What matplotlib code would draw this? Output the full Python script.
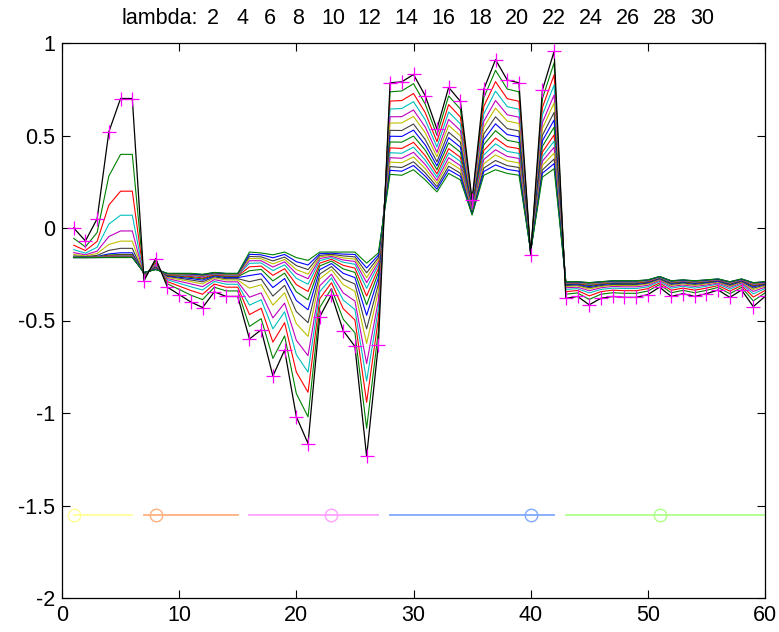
import matplotlib
matplotlib.use("Agg")
import matplotlib.pyplot as plt

features = list(range(1, 61))

# original weights (black line with magenta + markers)
w_lambda0 = [0.00, -0.07, 0.05, 0.52, 0.70, 0.70,
             -0.285, -0.165, -0.32, -0.36, -0.40, -0.43, -0.345, -0.37, -0.37,
             -0.60, -0.55, -0.80, -0.66, -1.02, -1.165, -0.48, -0.36, -0.555, -0.64, -1.235, -0.63,
             0.785, 0.79, 0.83, 0.715, 0.535, 0.76, 0.685, 0.15, 0.75, 0.91, 0.80, 0.785, -0.145, 0.745, 0.955,
             -0.38, -0.37, -0.415, -0.38, -0.37, -0.375, -0.375, -0.36, -0.32, -0.37, -0.355, -0.37, -0.355,
             -0.335, -0.375, -0.335, -0.425, -0.37]

w_lambda2 = [-0.056, -0.102, -0.024, 0.281, 0.398, 0.398,
             -0.274, -0.179, -0.302, -0.332, -0.363, -0.387, -0.320, -0.340, -0.340,
             -0.532, -0.490, -0.705, -0.583, -0.895, -1.021, -0.429, -0.327, -0.493, -0.566, -1.083, -0.558,
             0.736, 0.741, 0.780, 0.670, 0.502, 0.714, 0.643, 0.142, 0.704, 0.852, 0.751, 0.736, -0.143, 0.699, 0.893,
             -0.358, -0.351, -0.386, -0.358, -0.350, -0.353, -0.353, -0.341, -0.306, -0.350, -0.337, -0.350, -0.337,
             -0.321, -0.355, -0.321, -0.394, -0.351]

w_lambda4 = [-0.093, -0.122, -0.072, 0.124, 0.199, 0.199,
             -0.267, -0.189, -0.290, -0.314, -0.338, -0.358, -0.303, -0.320, -0.320,
             -0.468, -0.434, -0.617, -0.512, -0.779, -0.888, -0.382, -0.296, -0.436, -0.497, -0.942, -0.491,
             0.686, 0.689, 0.727, 0.624, 0.467, 0.667, 0.600, 0.134, 0.657, 0.791, 0.699, 0.685, -0.141, 0.651, 0.828,
             -0.344, -0.338, -0.367, -0.344, -0.336, -0.339, -0.339, -0.328, -0.297, -0.336, -0.325, -0.336, -0.325,
             -0.311, -0.341, -0.311, -0.373, -0.338]

w_lambda6 = [-0.117, -0.136, -0.104, 0.021, 0.069, 0.069,
             -0.261, -0.197, -0.280, -0.299, -0.318, -0.335, -0.289, -0.304, -0.304,
             -0.417, -0.388, -0.545, -0.453, -0.685, -0.779, -0.344, -0.270, -0.389, -0.441, -0.827, -0.437,
             0.643, 0.646, 0.683, 0.585, 0.438, 0.627, 0.563, 0.127, 0.617, 0.740, 0.656, 0.642, -0.139, 0.611, 0.773,
             -0.332, -0.328, -0.351, -0.332, -0.325, -0.327, -0.327, -0.318, -0.289, -0.325, -0.315, -0.325, -0.315,
             -0.303, -0.330, -0.303, -0.356, -0.328]

w_lambda8 = [-0.133, -0.145, -0.125, -0.046, -0.016, -0.016,
             -0.257, -0.203, -0.273, -0.288, -0.302, -0.317, -0.279, -0.291, -0.291,
             -0.374, -0.351, -0.486, -0.406, -0.607, -0.690, -0.312, -0.250, -0.351, -0.395, -0.733, -0.392,
             0.601, 0.602, 0.638, 0.546, 0.409, 0.587, 0.527, 0.120, 0.577, 0.689, 0.612, 0.599, -0.138, 0.570, 0.719,
             -0.323, -0.320, -0.339, -0.323, -0.316, -0.318, -0.318, -0.310, -0.283, -0.316, -0.308, -0.316, -0.308,
             -0.297, -0.321, -0.297, -0.343, -0.320]

w_lambda10 = [-0.143, -0.151, -0.138, -0.089, -0.071, -0.071,
              -0.253, -0.208, -0.267, -0.278, -0.290, -0.302, -0.270, -0.281, -0.281,
              -0.325, -0.307, -0.417, -0.350, -0.517, -0.586, -0.275, -0.225, -0.306, -0.342, -0.624, -0.340,
              0.567, 0.568, 0.603, 0.515, 0.385, 0.555, 0.498, 0.115, 0.545, 0.648, 0.578, 0.565, -0.136, 0.538, 0.676,
              -0.316, -0.313, -0.330, -0.316, -0.310, -0.311, -0.311, -0.303, -0.279, -0.310, -0.302, -0.310, -0.302,
              -0.292, -0.315, -0.292, -0.333, -0.313]

w_lambda12 = [-0.151, -0.155, -0.148, -0.121, -0.110, -0.110,
              -0.250, -0.211, -0.262, -0.271, -0.281, -0.291, -0.264, -0.274, -0.274,
              -0.290, -0.276, -0.368, -0.310, -0.452, -0.512, -0.249, -0.208, -0.275, -0.303, -0.545, -0.303,
              0.528, 0.527, 0.562, 0.478, 0.358, 0.518, 0.464, 0.108, 0.508, 0.601, 0.537, 0.525, -0.135, 0.501, 0.625,
              -0.311, -0.308, -0.323, -0.311, -0.305, -0.306, -0.306, -0.298, -0.275, -0.305, -0.297, -0.305, -0.297,
              -0.289, -0.310, -0.289, -0.325, -0.308]

w_lambda14 = [-0.155, -0.157, -0.154, -0.140, -0.134, -0.134,
              -0.248, -0.214, -0.259, -0.266, -0.273, -0.282, -0.259, -0.268, -0.268,
              -0.257, -0.247, -0.322, -0.273, -0.392, -0.442, -0.225, -0.192, -0.245, -0.268, -0.472, -0.269,
              0.496, 0.495, 0.529, 0.449, 0.336, 0.488, 0.437, 0.103, 0.478, 0.563, 0.505, 0.493, -0.133, 0.471, 0.584,
              -0.306, -0.304, -0.317, -0.306, -0.300, -0.301, -0.301, -0.294, -0.272, -0.300, -0.294, -0.300, -0.294,
              -0.286, -0.305, -0.286, -0.318, -0.304]

w_lambda16 = [-0.157, -0.158, -0.156, -0.146, -0.143, -0.143,
              -0.246, -0.217, -0.256, -0.261, -0.267, -0.275, -0.255, -0.263, -0.263,
              -0.231, -0.224, -0.286, -0.244, -0.345, -0.388, -0.205, -0.179, -0.221, -0.240, -0.415, -0.241,
              0.465, 0.464, 0.497, 0.421, 0.315, 0.460, 0.410, 0.098, 0.450, 0.526, 0.474, 0.462, -0.132, 0.441, 0.545,
              -0.303, -0.301, -0.312, -0.303, -0.297, -0.298, -0.298, -0.291, -0.270, -0.297, -0.291, -0.297, -0.291,
              -0.283, -0.302, -0.283, -0.313, -0.301]

w_lambda18 = [-0.158, -0.159, -0.157, -0.150, -0.147, -0.147,
              -0.245, -0.218, -0.253, -0.258, -0.262, -0.270, -0.252, -0.259, -0.259,
              -0.210, -0.206, -0.256, -0.220, -0.306, -0.343, -0.190, -0.169, -0.202, -0.217, -0.368, -0.219,
              0.433, 0.430, 0.463, 0.391, 0.293, 0.429, 0.382, 0.093, 0.419, 0.486, 0.440, 0.429, -0.131, 0.410, 0.503,
              -0.300, -0.299, -0.308, -0.300, -0.294, -0.295, -0.295, -0.289, -0.268, -0.294, -0.288, -0.294, -0.288,
              -0.282, -0.299, -0.282, -0.309, -0.299]

w_lambda20 = [-0.158, -0.159, -0.158, -0.153, -0.151, -0.151,
              -0.244, -0.220, -0.251, -0.254, -0.257, -0.264, -0.248, -0.255, -0.255,
              -0.191, -0.189, -0.230, -0.199, -0.272, -0.304, -0.176, -0.160, -0.185, -0.196, -0.326, -0.199,
              0.407, 0.404, 0.437, 0.367, 0.275, 0.405, 0.360, 0.089, 0.395, 0.455, 0.414, 0.403, -0.130, 0.386, 0.470,
              -0.297, -0.296, -0.305, -0.297, -0.292, -0.292, -0.292, -0.286, -0.267, -0.292, -0.286, -0.292, -0.286,
              -0.280, -0.297, -0.280, -0.305, -0.296]

w_lambda22 = [-0.159, -0.159, -0.158, -0.155, -0.153, -0.153,
              -0.243, -0.221, -0.250, -0.252, -0.254, -0.261, -0.246, -0.253, -0.253,
              -0.177, -0.177, -0.211, -0.183, -0.246, -0.274, -0.165, -0.153, -0.173, -0.181, -0.295, -0.185,
              0.380, 0.377, 0.409, 0.343, 0.257, 0.380, 0.337, 0.085, 0.370, 0.423, 0.387, 0.376, -0.129, 0.361, 0.436,
              -0.295, -0.295, -0.302, -0.295, -0.290, -0.290, -0.290, -0.285, -0.265, -0.290, -0.285, -0.290, -0.285,
              -0.279, -0.295, -0.279, -0.303, -0.295]

w_lambda24 = [-0.159, -0.160, -0.159, -0.157, -0.156, -0.156,
              -0.242, -0.223, -0.248, -0.250, -0.251, -0.257, -0.244, -0.250, -0.250,
              -0.165, -0.166, -0.194, -0.170, -0.225, -0.249, -0.156, -0.147, -0.162, -0.168, -0.268, -0.172,
              0.356, 0.353, 0.384, 0.321, 0.241, 0.357, 0.317, 0.081, 0.347, 0.395, 0.363, 0.352, -0.128, 0.338, 0.405,
              -0.294, -0.293, -0.300, -0.294, -0.288, -0.289, -0.289, -0.283, -0.264, -0.288, -0.283, -0.288, -0.283,
              -0.277, -0.293, -0.277, -0.300, -0.293]

w_lambda26 = [-0.160, -0.160, -0.159, -0.158, -0.157, -0.157,
              -0.241, -0.223, -0.247, -0.248, -0.249, -0.255, -0.243, -0.248, -0.248,
              -0.154, -0.156, -0.178, -0.157, -0.203, -0.225, -0.148, -0.142, -0.151, -0.156, -0.242, -0.160,
              0.332, 0.327, 0.358, 0.298, 0.224, 0.334, 0.296, 0.077, 0.324, 0.365, 0.337, 0.327, -0.127, 0.314, 0.373,
              -0.292, -0.292, -0.298, -0.292, -0.287, -0.287, -0.287, -0.282, -0.263, -0.287, -0.282, -0.287, -0.282,
              -0.277, -0.292, -0.277, -0.298, -0.292]

w_lambda28 = [-0.160, -0.160, -0.160, -0.159, -0.159, -0.159,
              -0.240, -0.224, -0.246, -0.246, -0.247, -0.252, -0.241, -0.246, -0.246,
              -0.142, -0.145, -0.161, -0.143, -0.182, -0.200, -0.139, -0.136, -0.141, -0.143, -0.216, -0.147,
              0.312, 0.307, 0.338, 0.280, 0.210, 0.315, 0.279, 0.074, 0.305, 0.341, 0.317, 0.307, -0.126, 0.296, 0.348,
              -0.291, -0.291, -0.296, -0.291, -0.286, -0.286, -0.286, -0.281, -0.263, -0.286, -0.281, -0.286, -0.281,
              -0.276, -0.291, -0.276, -0.296, -0.291]

w_lambda30 = [-0.160, -0.160, -0.160, -0.160, -0.160, -0.160,
              -0.240, -0.225, -0.245, -0.245, -0.245, -0.250, -0.240, -0.245, -0.245,
              -0.130, -0.135, -0.145, -0.130, -0.160, -0.175, -0.130, -0.130, -0.130, -0.130, -0.190, -0.135,
              0.290, 0.285, 0.315, 0.260, 0.195, 0.295, 0.260, 0.070, 0.285, 0.315, 0.295, 0.285, -0.125, 0.275, 0.320,
              -0.290, -0.290, -0.295, -0.290, -0.285, -0.285, -0.285, -0.280, -0.262, -0.285, -0.280, -0.285, -0.280,
              -0.275, -0.290, -0.275, -0.295, -0.290]

lambda_values = [2, 4, 6, 8, 10, 12, 14, 16, 18, 20, 22, 24, 26, 28, 30]
lambda_curves = [w_lambda2, w_lambda4, w_lambda6, w_lambda8, w_lambda10, w_lambda12, w_lambda14,
                 w_lambda16, w_lambda18, w_lambda20, w_lambda22, w_lambda24, w_lambda26, w_lambda28,
                 w_lambda30]

# feature groups shown along the bottom
group_start = [1, 7, 16, 28, 43]
group_end = [6, 15, 27, 42, 60]
group_marker = [1, 8, 23, 40, 51]
group_level = -1.55

# styles
mat_colors = {'b': (0, 0, 1), 'g': (0, 0.5, 0), 'r': (1, 0, 0), 'c': (0, 0.75, 0.75),
              'm': (0.75, 0, 0.75), 'y': (0.75, 0.75, 0), 'k': (0.25, 0.25, 0.25)}
curve_color_keys = ['g', 'r', 'c', 'm', 'y', 'k', 'b', 'g', 'r', 'c', 'm', 'y', 'k', 'b', 'g']
group_colors = ['#ffff99', '#ffb080', '#ffa0ff', '#80aaff', '#b0ff88']

plt.rcParams['font.family'] = ['Liberation Sans', 'DejaVu Sans']
plt.rcParams['axes.unicode_minus'] = False

W, H = 779, 632
fig = plt.figure(figsize=(W / 100, H / 100), dpi=100)
ax = fig.add_axes([62 / W, 34 / H, 703 / W, 555 / H])

for curve, key in zip(lambda_curves, curve_color_keys):
    ax.plot(features, curve, color=mat_colors[key], lw=0.8)
ax.plot(features, w_lambda0, color='black', lw=0.9)
ax.plot(features, w_lambda0, linestyle='none', marker='+', color='magenta', ms=10, mew=0.9)

for a, b, m, c in zip(group_start, group_end, group_marker, group_colors):
    ax.plot([a, b], [group_level, group_level], color=c, lw=1.3)
    ax.plot([m], [group_level], marker='o', mfc='none', mec=c, ms=9, mew=1.0, linestyle='none')

ax.set_xlim(0, 60)
ax.set_ylim(-2, 1)
ax.set_xticks([0, 10, 20, 30, 40, 50, 60])
ax.set_yticks([-2, -1.5, -1, -0.5, 0, 0.5, 1])
ax.set_yticklabels(['-2', '-1.5', '-1', '-0.5', '0', '0.5', '1'])
ax.tick_params(direction='in', top=True, right=True, length=6, width=0.8, labelsize=15.5, pad=5)
for s in ax.spines.values():
    s.set_linewidth(0.9)

# lambda annotation along the top
fig.text(160 / W, 1 - 19 / H, 'lambda:', ha='center', va='center', fontsize=15.5)
label_x = [213, 243, 270, 298, 333, 369, 406, 443, 480, 517, 554, 591, 628, 665, 702]
for lv, px in zip(lambda_values, label_x):
    fig.text(px / W, 1 - 19 / H, str(lv), ha='center', va='center', fontsize=15.5)

fig.savefig('out.png', dpi=100)
